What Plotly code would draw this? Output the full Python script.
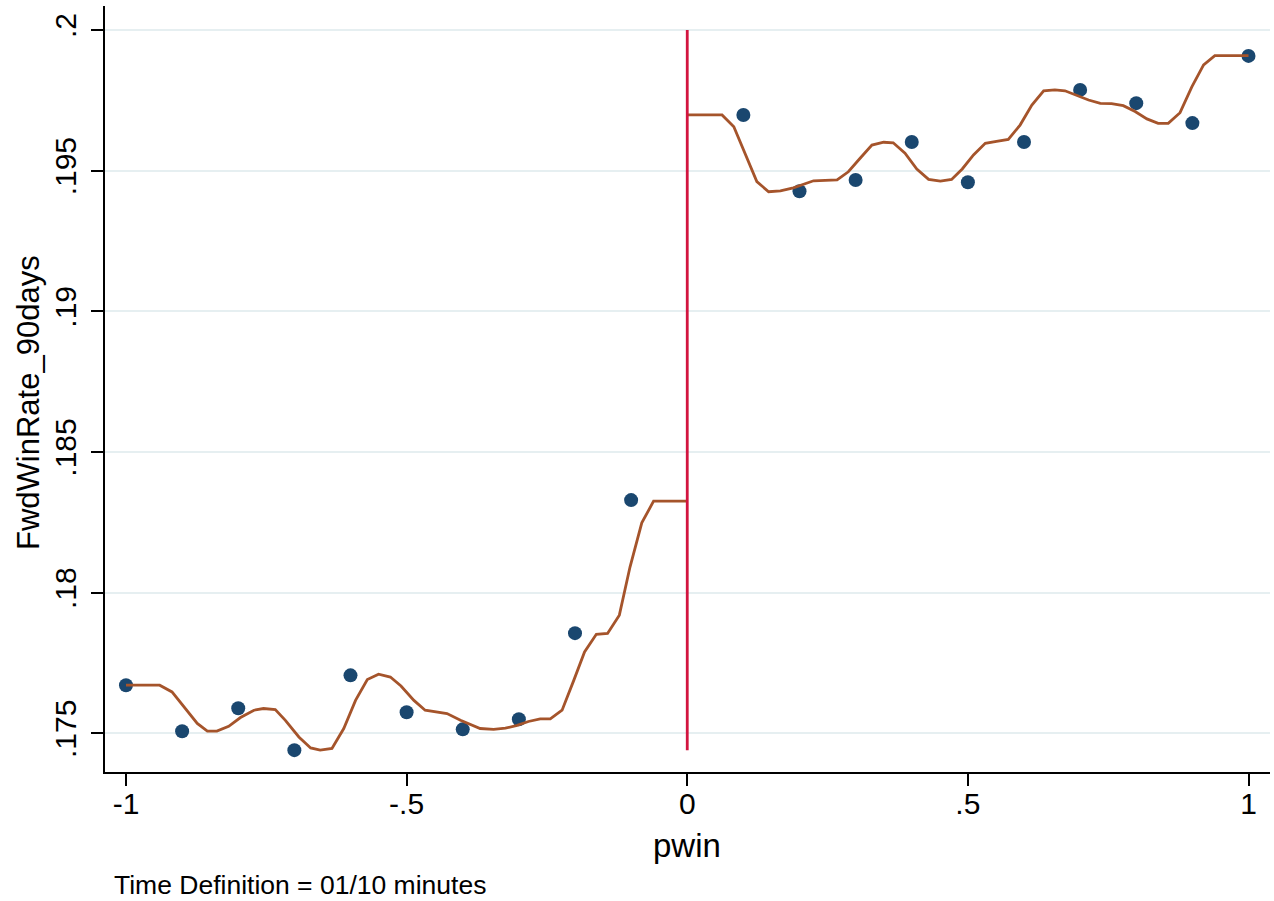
import plotly.graph_objects as go

# binned scatter points
bin_x = [-1.0, -0.9, -0.8, -0.7, -0.6, -0.5, -0.4, -0.3, -0.2, -0.1,
         0.1, 0.2, 0.3, 0.4, 0.5, 0.6, 0.7, 0.8, 0.9, 1.0]
bin_y = [0.17671, 0.17507, 0.17589, 0.17440, 0.17706, 0.17575, 0.17514, 0.17550, 0.17856, 0.18329,
         0.19698, 0.19427, 0.19467, 0.19602, 0.19459, 0.19602, 0.19787, 0.19740, 0.19669, 0.19908]

# smoothed fit, left of cutoff
fit_left_x = [-1.0, -0.94, -0.918, -0.873, -0.855, -0.838, -0.817, -0.796, -0.772, -0.755,
              -0.734, -0.716, -0.692, -0.671, -0.654, -0.633, -0.612, -0.591, -0.570, -0.550,
              -0.529, -0.510, -0.487, -0.467, -0.428, -0.404, -0.369, -0.345, -0.324, -0.303,
              -0.283, -0.262, -0.244, -0.223, -0.202, -0.183, -0.162, -0.142, -0.121, -0.102,
              -0.081, -0.060, 0.0]
fit_left_y = [0.17671, 0.17671, 0.17647, 0.17535, 0.17508, 0.17508, 0.17525, 0.17556, 0.17582, 0.17588,
              0.17584, 0.17546, 0.17487, 0.17448, 0.17440, 0.17446, 0.17517, 0.17617, 0.17691, 0.17710,
              0.17700, 0.17668, 0.17617, 0.17582, 0.17570, 0.17546, 0.17517, 0.17514, 0.17518, 0.17528,
              0.17542, 0.17551, 0.17551, 0.17582, 0.17689, 0.17789, 0.17852, 0.17855, 0.17920, 0.18091,
              0.18248, 0.18325, 0.18325]

# smoothed fit, right of cutoff
fit_right_x = [0.0, 0.062, 0.083, 0.124, 0.145, 0.166, 0.189, 0.225, 0.267, 0.287,
               0.308, 0.329, 0.350, 0.367, 0.388, 0.409, 0.430, 0.451, 0.471, 0.490,
               0.510, 0.531, 0.551, 0.572, 0.593, 0.614, 0.635, 0.655, 0.673, 0.691,
               0.715, 0.736, 0.756, 0.777, 0.798, 0.819, 0.839, 0.857, 0.878, 0.899,
               0.920, 0.940, 0.961, 1.0]
fit_right_y = [0.19698, 0.19698, 0.19656, 0.19461, 0.19425, 0.19428, 0.19439, 0.19464, 0.19467, 0.19496,
               0.19544, 0.19591, 0.19601, 0.19599, 0.19562, 0.19506, 0.19469, 0.19463, 0.19469, 0.19506,
               0.19556, 0.19597, 0.19604, 0.19611, 0.19662, 0.19733, 0.19784, 0.19787, 0.19784, 0.19771,
               0.19751, 0.19739, 0.19738, 0.19731, 0.19710, 0.19684, 0.19668, 0.19668, 0.19706, 0.19798,
               0.19876, 0.19909, 0.19909, 0.19909]

cutoff = 0.0
cutoff_span = [0.1744, 0.2]

x_tickvals = [-1, -0.5, 0, 0.5, 1]
x_ticktext = ["-1", "-.5", "0", ".5", "1"]
y_tickvals = [0.175, 0.18, 0.185, 0.19, 0.195, 0.2]
y_ticktext = [".175", ".18", ".185", ".19", ".195", ".2"]

FONT = "Liberation Sans, Arial, Helvetica, sans-serif"
DOT = "#1A476F"
FIT = "#A5542B"
CUT = "#D2143F"

fig = go.Figure()
fig.add_trace(go.Scatter(x=bin_x, y=bin_y, mode="markers",
                         marker=dict(color=DOT, size=14, line=dict(width=0)),
                         showlegend=False, hoverinfo="skip"))
fig.add_trace(go.Scatter(x=fit_left_x, y=fit_left_y, mode="lines",
                         line=dict(color=FIT, width=2.8), showlegend=False, hoverinfo="skip"))
fig.add_trace(go.Scatter(x=fit_right_x, y=fit_right_y, mode="lines",
                         line=dict(color=FIT, width=2.8), showlegend=False, hoverinfo="skip"))

fig.add_shape(type="line", xref="x", yref="y", x0=cutoff, x1=cutoff,
              y0=cutoff_span[0], y1=cutoff_span[1], line=dict(color=CUT, width=2.8))

fig.update_layout(
    width=1274, height=901,
    margin=dict(l=105, r=4, t=6, b=129),
    paper_bgcolor="white", plot_bgcolor="white",
    font=dict(family=FONT, color="black"),
    xaxis=dict(range=[-1.0374, 1.0383], tickvals=x_tickvals, ticktext=x_ticktext,
               ticks="outside", ticklen=12, tickwidth=2, tickcolor="black",
               showline=True, linecolor="black", linewidth=2, automargin=False,
               ticklabelstandoff=-8,
               showgrid=False, zeroline=False, tickfont=dict(size=30, family=FONT)),
    yaxis=dict(range=[0.173624, 0.200853], tickvals=y_tickvals, ticktext=y_ticktext,
               tickangle=-90, ticks="outside", ticklen=12, tickwidth=2, tickcolor="black",
               showline=True, linecolor="black", linewidth=2, automargin=False,
               ticklabelstandoff=3,
               showgrid=True, gridcolor="#E6EFF1", gridwidth=2,
               zeroline=False, tickfont=dict(size=30, family=FONT)),
    annotations=[
        dict(text="FwdWinRate_90days", xref="paper", yref="paper",
             x=-(105 - 28) / 1165, y=(901 - 129 - 403) / 766, textangle=-90,
             showarrow=False, font=dict(size=31, family=FONT), xanchor="center", yanchor="middle"),
        dict(text="pwin", xref="paper", yref="paper",
             x=(687 - 105) / 1165, y=-(845 - 772) / 766,
             showarrow=False, font=dict(size=33, family=FONT), xanchor="center", yanchor="middle"),
        dict(text="Time Definition = 01/10 minutes", xref="paper", yref="paper",
             x=(112 - 105) / 1165, y=-(885 - 772) / 766,
             showarrow=False, font=dict(size=26.5, family=FONT), xanchor="left", yanchor="middle"),
    ],
)

fig.write_html("out.html", config={"displayModeBar": False},
               post_script="document.body.style.margin='0';document.body.style.overflow='hidden';")
